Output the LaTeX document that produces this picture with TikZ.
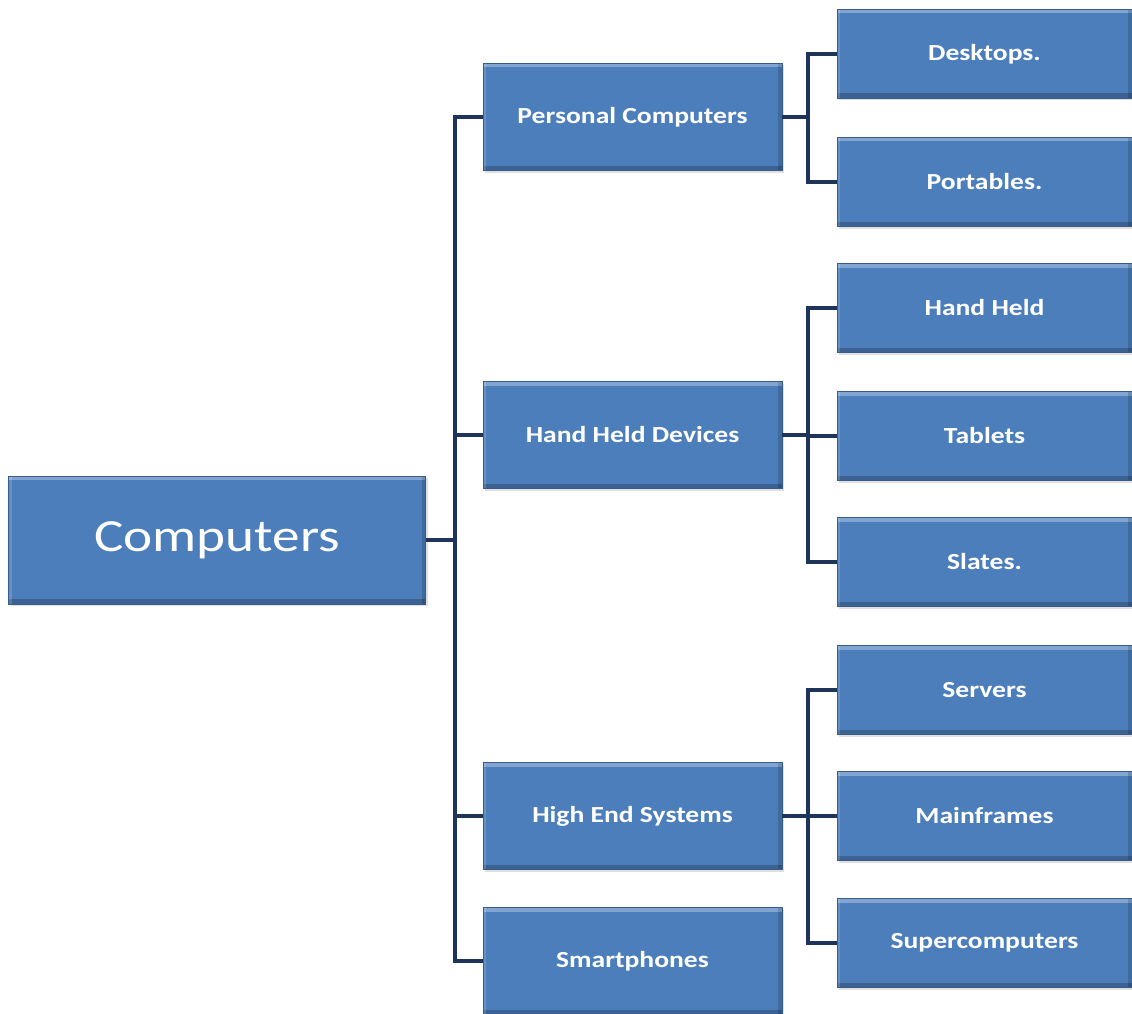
\documentclass[tikz,border=0pt]{standalone}
\usepackage{fontspec}
\usepackage{graphicx}
\setmainfont{Carlito}
\usetikzlibrary{shadows}
\definecolor{boxblue}{RGB}{76,126,188}
\definecolor{boxedge}{RGB}{56,93,138}
\definecolor{linkcol}{RGB}{30,52,90}
\newcommand{\wide}[1]{\scalebox{1.2}[1]{#1}}
\begin{document}
\begin{tikzpicture}[x=1pt,y=-1pt,
  bx/.style={rectangle, fill=boxblue, draw=boxedge, line width=0.8pt, inner sep=0pt,
    text=white, align=center,
    drop shadow={opacity=0.25, shadow xshift=2pt, shadow yshift=-2pt},
    path picture={
      \fill[white,opacity=0.30] (path picture bounding box.north west) rectangle ([yshift=-4pt]path picture bounding box.north east);
      \fill[black,opacity=0.22] ([yshift=5pt]path picture bounding box.south west) rectangle (path picture bounding box.south east);
      \fill[black,opacity=0.15] ([xshift=-4pt]path picture bounding box.north east) rectangle (path picture bounding box.south east);
      \fill[white,opacity=0.15] (path picture bounding box.north west) rectangle ([xshift=3pt]path picture bounding box.south west);
    }},
  root/.style={bx, minimum width=417pt, minimum height=128pt, font=\fontsize{46}{50}\selectfont},
  lone/.style={bx, minimum width=299pt, minimum height=107pt, font=\bfseries\fontsize{23}{26}\selectfont},
  ltwo/.style={bx, minimum width=295pt, minimum height=89pt, font=\bfseries\fontsize{23}{26}\selectfont},
  link/.style={draw=linkcol, line width=3.2pt}]
\useasboundingbox (0,0) rectangle (1132,1014);
\begin{scope}
\clip (0,0) rectangle (1132,1014);
% nodes
\node[root] (comp) at (217,540) {\wide{Computers}};
\node[lone] (pc)  at (632.5,117) {\wide{Personal Computers}};
\node[lone] (hhd) at (632.5,435) {\wide{Hand Held Devices}};
\node[lone] (hes) at (632.5,816) {\wide{High End Systems}};
\node[lone] (sp)  at (632.5,961) {\wide{Smartphones}};
\node[ltwo] (desk) at (984.5,54)  {\wide{Desktops.}};
\node[ltwo] (port) at (984.5,182) {\wide{Portables.}};
\node[ltwo] (hh)   at (984.5,308) {\wide{Hand Held}};
\node[ltwo] (tab)  at (984.5,436) {\wide{Tablets}};
\node[ltwo] (sla)  at (984.5,562) {\wide{Slates.}};
\node[ltwo] (serv) at (984.5,690) {\wide{Servers}};
\node[ltwo] (main) at (984.5,816) {\wide{Mainframes}};
\node[ltwo] (sup)  at (984.5,943) {\wide{Supercomputers}};
% junctions
\coordinate (j0) at (455,540);
\coordinate (j1) at (808,117);
\coordinate (j2) at (808,435);
\coordinate (j3) at (808,816);
% connectors
\draw[link] (comp.east) -- (j0);
\draw[link] (j0) |- (pc.west);
\draw[link] (j0) |- (hhd.west);
\draw[link] (j0) |- (hes.west);
\draw[link] (j0) |- (sp.west);
\draw[link] (pc.east) -- (j1);
\draw[link] (j1) |- (desk.west);
\draw[link] (j1) |- (port.west);
\draw[link] (hhd.east) -- (j2);
\draw[link] (j2) |- (hh.west);
\draw[link] (j2) |- (tab.west);
\draw[link] (j2) |- (sla.west);
\draw[link] (hes.east) -- (j3);
\draw[link] (j3) |- (serv.west);
\draw[link] (j3) |- (main.west);
\draw[link] (j3) |- (sup.west);
\end{scope}
\end{tikzpicture}
\end{document}
